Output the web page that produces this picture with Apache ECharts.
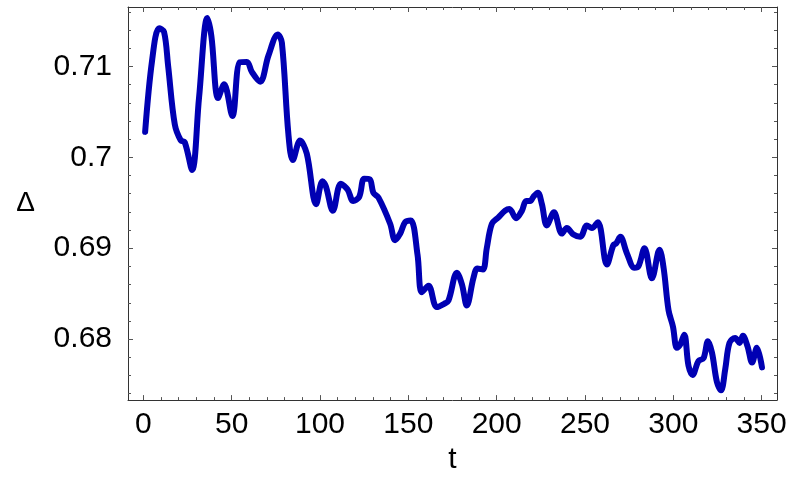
<!DOCTYPE html>
<html><head><meta charset="utf-8">
<script src="https://cdn.jsdelivr.net/npm/echarts@6/dist/echarts.min.js"></script>
<style>html,body{margin:0;padding:0;background:#fff}#c{width:791px;height:480px}</style>
</head><body><div id="c"></div>
<script>
const tValues = [1, 4.9, 8.9, 11.7, 14, 17.8, 21.2, 23.4, 27.6, 31.5, 36.2, 38.5, 42.3, 45.7, 50.4, 54.6, 58.6, 61.4, 66.1, 70.8, 76.1, 78.4, 82.1, 84.6, 88.7, 92.5, 97.8, 101.4, 103.3, 107.3, 111.8, 115.6, 118.8, 122.2, 125, 128.2, 130.2, 133.1, 139.7, 142.5, 145.4, 148.2, 151.4, 155.2, 157.6, 161.4, 166.1, 170.3, 172.7, 177.5, 180.3, 183.1, 186.9, 189.1, 192.2, 194.4, 197.3, 201, 204.8, 207.2, 211, 214.3, 216.7, 219, 220.8, 223.3, 225.6, 228.4, 232.4, 236.9, 239.7, 243.5, 247.3, 251.1, 253.9, 257.3, 262.4, 266.1, 267.7, 270, 273.7, 278, 280.3, 283.7, 287.9, 292.2, 294.5, 297.3, 299.8, 302, 303.9, 306.2, 308.6, 310.9, 314.3, 317.1, 319.6, 321.9, 324.7, 327, 329.4, 331.8, 335, 337.5, 339.4, 342, 344.6, 347.3, 350.2];
const deltaValues = [0.7028, 0.7106, 0.7142, 0.7138, 0.7101, 0.7036, 0.70185, 0.70167, 0.69862, 0.70652, 0.71532, 0.71334, 0.70652, 0.70803, 0.70455, 0.71047, 0.7105, 0.7094, 0.70832, 0.71119, 0.71352, 0.71263, 0.70256, 0.6997, 0.70185, 0.70041, 0.69485, 0.69736, 0.69682, 0.69413, 0.6971, 0.69646, 0.6952, 0.69565, 0.69765, 0.69757, 0.6961, 0.69556, 0.69269, 0.69089, 0.69161, 0.69287, 0.69305, 0.68928, 0.68515, 0.68586, 0.68353, 0.68389, 0.68424, 0.6873, 0.68604, 0.68371, 0.68677, 0.68777, 0.68766, 0.69, 0.69269, 0.6934, 0.69413, 0.69431, 0.6933, 0.69413, 0.6952, 0.6952, 0.69567, 0.6961, 0.69485, 0.69251, 0.69395, 0.69161, 0.69222, 0.6915, 0.69125, 0.69251, 0.69222, 0.69287, 0.6882, 0.69035, 0.69054, 0.69125, 0.68946, 0.68784, 0.68802, 0.69, 0.68669, 0.68982, 0.68784, 0.68317, 0.68138, 0.67904, 0.6794, 0.68048, 0.67707, 0.67606, 0.67761, 0.67789, 0.67976, 0.6785, 0.67527, 0.67437, 0.6767, 0.67958, 0.68012, 0.67958, 0.68037, 0.67922, 0.67742, 0.67904, 0.67689];
const xMajorTicks = [0, 50, 100, 150, 200, 250, 300, 350];
const xMinorTicks = [10, 20, 30, 40, 60, 70, 80, 90, 110, 120, 130, 140, 160, 170, 180, 190, 210, 220, 230, 240, 260, 270, 280, 290, 310, 320, 330, 340];
const yMajorTicks = [0.68, 0.69, 0.70, 0.71];
const yTickLabels = ['0.68', '0.69', '0.7', '0.71'];
const yMinorTicks = [0.674, 0.676, 0.678, 0.682, 0.684, 0.686, 0.688, 0.692, 0.694, 0.696, 0.698, 0.702, 0.704, 0.706, 0.708, 0.712, 0.714, 0.716];

const X_MIN = -8.7, X_MAX = 358.7, Y_MIN = 0.67329, Y_MAX = 0.71654;
const FONT = 'Liberation Sans, Arial, sans-serif';
const frameColor = '#333';
const tickColor = '#555';

function xAx(pos, major, show) {
  return {
    type: 'value', position: pos, min: X_MIN, max: X_MAX,
    axisLine: { show: show, onZero: false, lineStyle: { color: frameColor, width: 1 } },
    axisTick: { show: true, inside: true, length: major ? 5 : 3, customValues: major ? xMajorTicks : xMinorTicks, lineStyle: { color: tickColor } },
    axisLabel: { show: false },
    splitLine: { show: false }
  };
}
function yAx(pos, major, show) {
  return {
    type: 'value', position: pos, min: Y_MIN, max: Y_MAX,
    axisLine: { show: show, onZero: false, lineStyle: { color: frameColor, width: 1 } },
    axisTick: { show: true, inside: true, length: major ? 5 : 3, customValues: major ? yMajorTicks : yMinorTicks, lineStyle: { color: tickColor } },
    axisLabel: { show: false },
    splitLine: { show: false }
  };
}

const xBottom = xAx('bottom', true, true);
xBottom.axisLabel = { show: true, customValues: xMajorTicks, fontSize: 30, color: '#000', fontFamily: FONT, margin: 10 };
xBottom.name = 't';
xBottom.nameLocation = 'middle';
xBottom.nameGap = 44;
xBottom.nameTextStyle = { fontSize: 30, color: '#000', fontFamily: FONT };

const yLeft = yAx('left', true, true);
yLeft.axisLabel = { show: true, customValues: yMajorTicks, fontSize: 30, color: '#000', fontFamily: FONT, margin: 16,
  formatter: function (v) { const i = yMajorTicks.findIndex(m => Math.abs(m - v) < 1e-9); return i >= 0 ? yTickLabels[i] : ''; } };
yLeft.name = 'Δ';
yLeft.nameLocation = 'middle';
yLeft.nameRotate = 0;
yLeft.nameGap = 93;
yLeft.nameTextStyle = { fontSize: 28, color: '#000', fontFamily: FONT };

const chart = echarts.init(document.getElementById('c'), null, { renderer: 'canvas' });
chart.setOption({
  animation: false,
  backgroundColor: '#fff',
  grid: { left: 128, right: 14, top: 7, bottom: 72, containLabel: false },
  xAxis: [xBottom, xAx('top', true, true), xAx('top', false, false), xAx('bottom', false, false)],
  yAxis: [yLeft, yAx('right', true, true), yAx('right', false, false), yAx('left', false, false)],
  series: [{
    type: 'line',
    xAxisIndex: 0, yAxisIndex: 0,
    data: tValues.map((t, i) => [t, deltaValues[i]]),
    showSymbol: false, symbol: 'none',
    smooth: 0.35,
    lineStyle: { color: '#0000b3', width: 6, cap: 'round', join: 'round' }
  }]
});
</script>
</body></html>
